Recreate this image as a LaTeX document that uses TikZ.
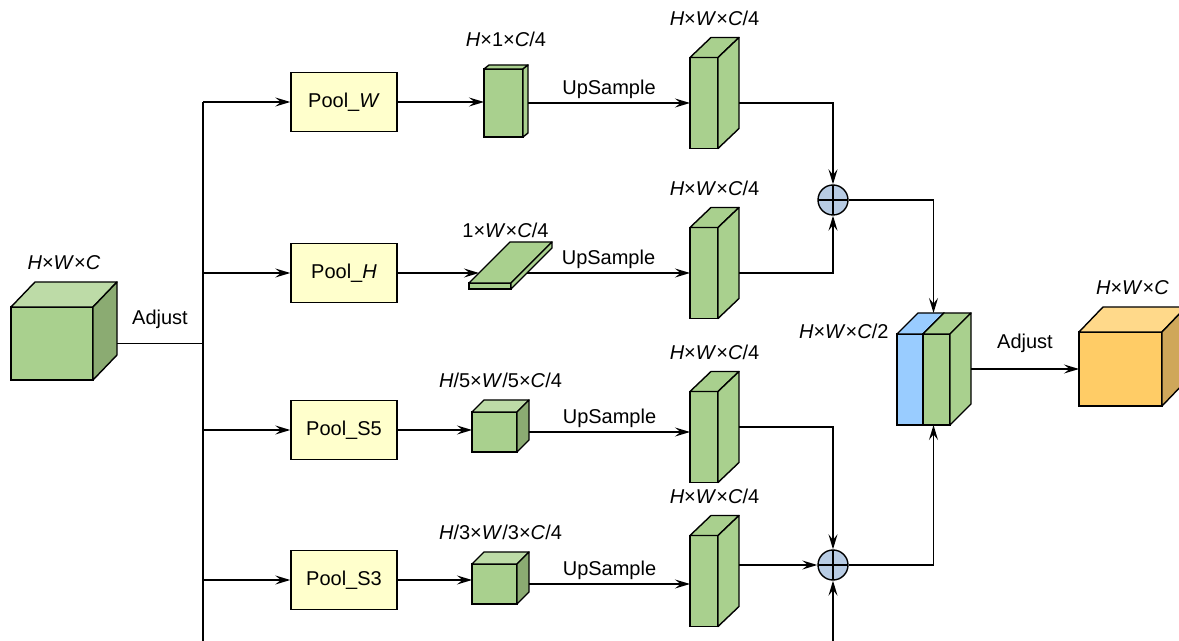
\documentclass[tikz,border=0pt]{standalone}
\usepackage{fontspec}
\setmainfont{Liberation Sans}
\usepackage{tikz}
\usetikzlibrary{arrows.meta,positioning,calc}
\newcommand{\fmTxt}{\fontsize{10}{12}\selectfont}
\definecolor{fmGreen}{HTML}{A9D08E}
\definecolor{fmGreenTop}{HTML}{BDDBA7}
\definecolor{fmGreenSide}{HTML}{8BAB72}
\definecolor{fmGold}{HTML}{FFCC66}
\definecolor{fmGoldTop}{HTML}{FFD98A}
\definecolor{fmGoldSide}{HTML}{CFA75A}
\definecolor{fmBlue}{HTML}{99CCFF}
\definecolor{fmSum}{HTML}{B8CCE4}
\definecolor{fmPool}{HTML}{FFFFCC}
\tikzset{
  %% front face of a feature block; top and side faces are added by \fmBlock
  fmface/.style={draw=black, line width=0.7pt, inner sep=0pt, outer sep=0pt},
  fmedge/.style={draw=black, line width=0.7pt, line join=round},
  fmpool/.style={draw=black, line width=0.7pt, fill=fmPool, inner sep=0pt,
    minimum width=53pt, minimum height=29.5pt},
  fmsum/.style={circle, draw=black, line width=0.7pt, fill=fmSum,
    minimum size=15pt, inner sep=0pt,
    path picture={\draw[line width=0.7pt]
      (path picture bounding box.north) -- (path picture bounding box.south)
      (path picture bounding box.west) -- (path picture bounding box.east);}},
  fmline/.style={draw=black, line width=0.7pt},
  fmarrow/.style={-{Stealth[length=7.5pt,width=4.5pt,inset=2.8pt]},
    draw=black, line width=0.7pt},
  fmlbl/.style={font=\fmTxt, inner sep=2pt},
  %% tensor sizes sit over the top face of their block
  fmdim/.style={font=\fmTxt, inner sep=0pt, anchor=base, yshift=6pt},
}
%% #1 name, #2 centre of front face, #3 width, #4 height, #5,#6 depth,
%% #7 front, #8 top, #9 side colour
\newcommand{\fmBlock}[9]{%
  \node[fmface, fill=#7, minimum width=#3*0.5pt, minimum height=#4*0.5pt]
    (#1) at #2 {};
  \draw[fmedge, fill=#8] (#1.north west) -- ++(#5,#6) -- ++(#3,0)
    -- (#1.north east) -- cycle;
  \draw[fmedge, fill=#9] (#1.north east) -- ++(#5,#6) -- ++(0,#4)
    -- (#1.south east) -- cycle;
  \coordinate (#1-s) at ($(#1.east)+(#5,0)$);
  \coordinate (#1-t) at ($(#1.north)+(#5/2,#6)$);
}

\begin{document}
\begin{tikzpicture}[x=0.5pt, y=-0.5pt, font=\fmTxt]
\useasboundingbox (0,0) rectangle (1179,641);

%% --- input feature and trunk ---------------------------------------
\fmBlock{inp}{(52,343.5)}{82}{73}{24}{-25}{fmGreen}{fmGreenTop}{fmGreenSide}
\node[fmdim] at (inp-t) {\textit{H}×\textit{W}×\textit{C}};
\coordinate (trk) at (203,343.5);
\coordinate (trkEnd) at (203,650);

%% --- pooling branches ------------------------------------------------
\node[fmpool] (poolW)  at (344,102) {Pool\_\textit{W}};
\node[fmpool] (poolH)  at (344,273) {Pool\_\textit{H}};
\node[fmpool] (poolS5) at (344,430) {Pool\_S5};
\node[fmpool] (poolS3) at (344,580) {Pool\_S3};

\draw[fmline] (inp-s) -- node[fmlbl, above=5pt]{Adjust} (trk);
\draw[fmline] (poolW.west -| trk) -- (trkEnd);
\foreach \p in {poolW,poolH,poolS5,poolS3}
  \draw[fmarrow] (\p.west -| trk) -- (\p.west);

%% pooled features
\fmBlock{fw}{(503.5,103)}{39}{68}{5}{-4}{fmGreen}{fmGreen}{fmGreen}
\node[fmdim, yshift=3pt] at (fw-t) {\textit{H}×1×\textit{C}/4};
\fmBlock{fh}{(490,286)}{42}{6}{41}{-41}{fmGreen}{fmGreen}{fmGreen}
\node[fmdim, yshift=-4pt, xshift=-2.5pt] at (fh-t) {1×\textit{W}×\textit{C}/4};
\fmBlock{fs5}{(494.5,432)}{45}{40}{12}{-12}{fmGreen}{fmGreenTop}{fmGreenSide}
\node[fmdim] at (fs5-t) {\textit{H}/5×\textit{W}/5×\textit{C}/4};
\fmBlock{fs3}{(494.5,584)}{45}{40}{12}{-12}{fmGreen}{fmGreenTop}{fmGreenSide}
\node[fmdim] at (fs3-t) {\textit{H}/3×\textit{W}/3×\textit{C}/4};

\coordinate (fh-in) at ($(fh.west)+(10,-13)$);
\coordinate (fh-out) at ($(fh.south east)+(16,-16)$);
\draw[fmarrow] (poolW) -- (fw.west |- poolW);
\draw[fmarrow] (poolH) -- (fh-in);
\draw[fmarrow] (poolS5) -- (fs5.west |- poolS5);
\draw[fmarrow] (poolS3) -- (fs3.west |- poolS3);

%% upsampled features
\fmBlock{up1}{(704,103)}{28}{91}{21}{-20}{fmGreen}{fmGreen}{fmGreen}
\fmBlock{up2}{(704,273)}{28}{91}{21}{-20}{fmGreen}{fmGreen}{fmGreen}
\fmBlock{up3}{(704,437)}{28}{91}{21}{-20}{fmGreen}{fmGreen}{fmGreen}
\fmBlock{up4}{(704,581)}{28}{91}{21}{-20}{fmGreen}{fmGreen}{fmGreen}
\foreach \u in {up1,up2,up3,up4}
  \node[fmdim] at (\u-t) {\textit{H}×\textit{W}×\textit{C}/4};

\draw[fmarrow] (fw-s) -- node[fmlbl, above]{UpSample} (up1.west |- fw-s);
\draw[fmarrow] (fh-out) -- node[fmlbl, above]{UpSample} (up2.west |- fh-out);
\draw[fmarrow] (fs5-s) -- node[fmlbl, above]{UpSample} (up3.west |- fs5-s);
\draw[fmarrow] (fs3-s) -- node[fmlbl, above]{UpSample} (up4.west |- fs3-s);

%% --- element-wise sums ----------------------------------------------
\node[fmsum] (sum1) at (833,200) {};
\node[fmsum] (sum2) at (833,565) {};

\draw[fmarrow] (up1-s) -| (sum1.north);
\draw[fmarrow] (up2-s) -| (sum1.south);
\draw[fmarrow] ($(up3-s)+(0,-10)$) -| (sum2.north);
\draw[fmarrow] (sum2.west -| up4-s) -- (sum2.west);
\draw[fmarrow] (sum2 |- trkEnd) -- (sum2.south);

%% --- concatenation and output ---------------------------------------
\fmBlock{catb}{(910,379.5)}{26}{91}{21}{-21}{fmBlue}{fmBlue}{fmBlue}
\fmBlock{catg}{(936.5,379.5)}{27}{91}{21}{-21}{fmGreen}{fmGreen}{fmGreen}
\node[fmdim, anchor=base east, yshift=0pt] at ($(catb.north west)+(-8,17)$)
  {\textit{H}×\textit{W}×\textit{C}/2};
\coordinate (cat-top) at ($(catb.north east)+(10.5,-21)$);
\coordinate (cat-bot) at ($(catg.south west)+(10.5,0)$);

\draw[fmarrow] (sum1.east) -| (cat-top);
\draw[fmarrow] (sum2.east) -| (cat-bot);

\fmBlock{outp}{(1120.5,369)}{83}{74}{24}{-25}{fmGold}{fmGoldTop}{fmGoldSide}
\node[fmdim] at (outp-t) {\textit{H}×\textit{W}×\textit{C}};
\draw[fmarrow] (outp.west -| catg-s) -- node[fmlbl, above=6pt]{Adjust} (outp.west);

\end{tikzpicture}
\end{document}
